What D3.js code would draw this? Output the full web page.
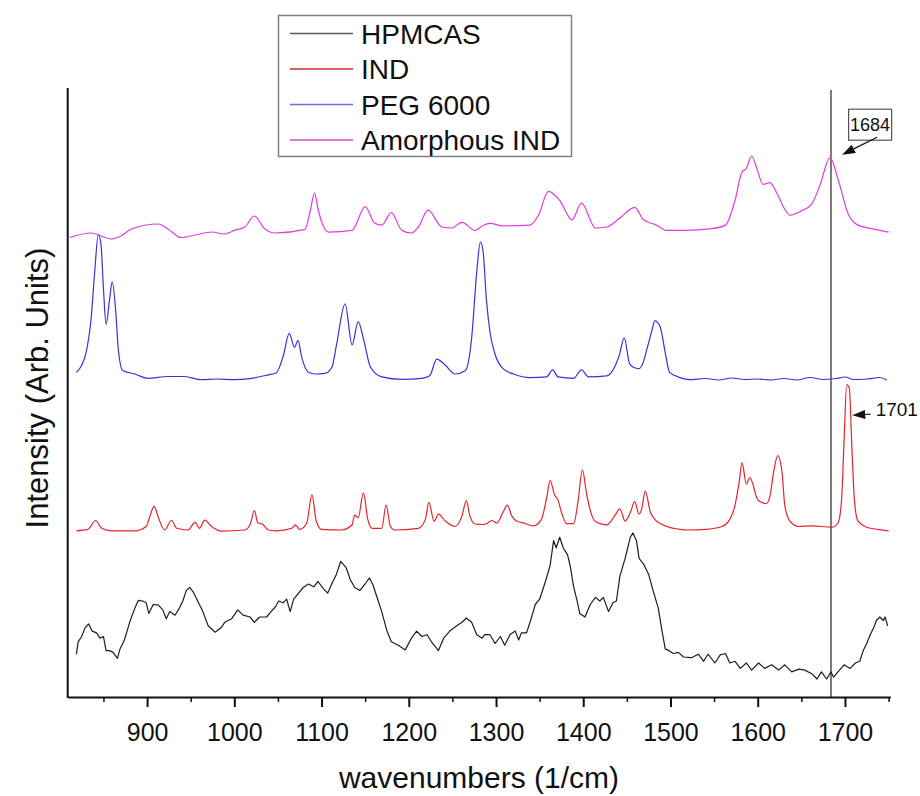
<!DOCTYPE html>
<html><head><meta charset="utf-8">
<script src="https://cdn.jsdelivr.net/npm/d3@7"></script>
<style>body{margin:0;background:#fff}svg{display:block}</style>
</head><body>
<svg id="c" width="920" height="796"></svg>
<script>
// ---------- DATA ----------
const hpmcasWn = [819,821,825,829,833,837,842,846,850,853,857,861,866,869,874,880,886,890,895,899,902,907,913,918,922,926,932,937,941,945,949,953,958,964,970,978,985,989,997,1004,1010,1018,1023,1029,1037,1042,1047,1051,1056,1060,1064,1068,1073,1079,1085,1091,1096,1102,1107,1112,1117,1122,1128,1133,1138,1144,1149,1155,1159,1163,1169,1175,1180,1188,1196,1203,1209,1215,1221,1226,1234,1240,1247,1255,1261,1266,1272,1278,1284,1287,1293,1299,1305,1310,1316,1322,1326,1329,1335,1339,1345,1350,1356,1362,1366,1369,1373,1377,1382,1385,1389,1393,1396,1402,1408,1414,1419,1423,1429,1434,1438,1442,1448,1454,1457,1461,1464,1469,1475,1480,1486,1490,1494,1498,1503,1509,1515,1524,1532,1538,1543,1551,1557,1563,1568,1574,1580,1587,1593,1601,1608,1616,1624,1631,1639,1647,1654,1662,1668,1673,1679,1684,1687,1692,1699,1706,1712,1717,1721,1725,1729,1733,1736,1740,1744,1746,1749];
const hpmcasI = [42.8,55.2,60.5,69.4,73,65.9,64.1,58.8,60.5,46.4,46.4,44.6,38.6,48.1,57,74.7,88.9,96.7,96,94.2,83.6,92.5,91.8,87.1,78.3,85.4,81.8,88.9,96,106.6,109.5,104.9,96,85.4,71.2,64.8,69.4,74.7,78.3,87.1,81.8,80,74.7,80,80,85.4,90,96,94.2,97.8,85.4,97.8,103.1,109.5,113,110.2,115.5,108.4,103.8,113.7,122.6,135.7,129.7,117.3,109.5,106.6,112,119.1,112,101.3,85.4,65.9,55.2,51.7,47.1,58.8,65.9,60.5,62.3,55.2,46.4,58.8,65.9,71.2,74.7,79,74.7,62.3,58.8,62.3,62.3,53.5,60.5,51.7,62.3,65.9,57,64.1,64.1,74.7,92.5,97.8,113.7,131.5,156.3,149.2,159.8,149.2,142.1,131.5,110.2,96,83.6,80,92.5,99.6,96,99.6,85.4,94.2,96,120.8,138.6,159.8,164.1,156.3,138.6,133.2,122.6,106.6,88.9,67.6,48.1,46.4,43.5,44.6,40,39.3,42.8,35.7,42.8,34,42.1,43.5,34,35.7,28.6,34,26.9,34,28.6,32.2,26.9,32.2,25.1,27.9,26.9,23.3,18,25.1,18,25.1,19.8,25.1,32.2,28.6,34,35.7,46.4,53.5,62.3,69.4,76.5,80,76.5,80,71.2];

const indWn = [819,832,841,848,859,886,899,904,908,913,920,928,934,947,955,960,966,974,985,1012,1018,1023,1027,1032,1039,1048,1066,1070,1075,1083,1089,1094,1100,1123,1135,1138,1142,1148,1153,1158,1169,1174,1179,1184,1211,1219,1223,1229,1234,1242,1253,1261,1266,1270,1276,1285,1289,1295,1301,1308,1313,1318,1324,1329,1343,1352,1358,1362,1367,1371,1375,1381,1389,1394,1399,1404,1410,1415,1427,1436,1442,1448,1454,1459,1464,1467,1471,1477,1482,1496,1511,1522,1540,1559,1568,1574,1579,1582,1587,1591,1595,1599,1603,1610,1614,1618,1623,1628,1631,1637,1647,1662,1685,1692,1696,1699,1702,1705,1708,1711,1715,1725,1738,1750];
const indI = [166.2,167.6,176.5,168.7,166.2,166.2,170.5,182.9,190.7,179.3,167,176.5,168.7,167,174.7,168.7,176.9,170.5,165.9,167,172.2,186.4,174,173,167,166.2,168.7,172.2,167.6,174,202.4,175.8,167.6,167,172.2,181.8,179.3,204.2,177.6,168.7,168.7,191.8,170.5,167,168.7,177.6,194.6,175.8,182.9,175.8,170.5,181.1,196.4,181.1,173,172.5,173.3,176.5,174,184.7,191.8,181.1,175.8,174.7,171.2,177.6,198.8,216.6,202.4,197.1,184.7,173.3,173.3,195.3,227.2,202.4,181.1,174.7,172.2,181.1,188.2,175.8,184.7,195.3,182.9,188.2,205.9,184.7,177.6,170.5,167.6,167,167.6,170.5,177.6,191.8,216.6,234.3,213,219.4,211.3,198.8,195.3,193.5,200.6,223.7,241.4,223.7,191.8,175.8,170.5,171.2,169.8,174,195.3,255.6,312.3,308.8,248.5,195.3,175.8,169.8,167.6,166.2];

const pegWn = [819,825,830,836,840,844,847,850,853,857,860,864,867,872,886,901,924,943,962,980,1000,1020,1039,1048,1056,1063,1069,1073,1077,1085,1093,1104,1112,1117,1127,1135,1142,1148,1156,1169,1192,1215,1224,1232,1242,1253,1265,1272,1278,1282,1285,1289,1293,1299,1308,1320,1339,1358,1365,1371,1389,1398,1406,1427,1436,1441,1447,1453,1457,1464,1469,1473,1479,1482,1488,1494,1499,1511,1522,1540,1555,1570,1585,1600,1615,1630,1645,1660,1675,1690,1700,1710,1725,1740,1748];
const pegI = [324.7,331.8,344.2,379.7,425.8,462,454.2,408.1,372.6,397.4,415.2,386.8,347.8,326.5,323,318.7,320.5,320.5,317.3,318,317.3,318.7,322.2,324,340.7,363.7,349.6,356.6,340.7,324.7,323,323.7,330,351.3,393.2,352,375.4,358.4,330,320.1,317.6,318.7,321.2,337.9,331.8,323,326.5,358.4,425.8,454.9,447,397.4,365.5,342.5,328.3,323,319.4,320.1,327.2,320.1,318.7,327.2,320.1,321.2,330,340.7,359.1,333.6,330,328.3,335.4,347.8,367.3,376.1,370.8,344.2,324.7,319.4,317.3,318.5,317,319,317.5,318,317,318.5,317,319.5,317.5,318.5,320,317.5,318,319.5,317];

const amorphWn = [811,836,859,870,882,913,924,939,955,974,989,1000,1012,1023,1035,1047,1081,1087,1092,1096,1100,1108,1135,1150,1161,1169,1180,1192,1203,1211,1222,1238,1249,1261,1276,1284,1293,1308,1339,1349,1360,1373,1387,1398,1414,1427,1442,1459,1469,1484,1496,1517,1547,1563,1574,1582,1587,1593,1599,1606,1614,1622,1631,1637,1650,1662,1671,1683,1692,1704,1715,1731,1750];
const amorphI = [459.5,464,458,461,468,473,468,459.5,462,465,463,466.6,470,481,468,464,467.6,486,503.8,488,475.4,464.8,466.6,490.3,473.7,471.9,484.3,466.6,464,470,486.8,470,469,474.7,466.6,471,473.7,471.2,471.9,482.5,505.6,496.7,477.2,493.9,469,470,479,489.6,477.2,471.9,466.6,466.6,468.3,471.9,496.7,525.1,528.6,541,528.6,512.7,514.4,503.8,487.9,481.8,486.1,493.2,510.9,539.3,518,482.5,471.9,468.3,464.8];

const seriesNames = ["HPMCAS", "IND", "PEG 6000", "Amorphous IND"];
const xTicksMajor = [900, 1000, 1100, 1200, 1300, 1400, 1500, 1600, 1700];
const xTicksMinor = [850, 950, 1050, 1150, 1250, 1350, 1450, 1550, 1650, 1750];
const markerWn = 1684;
const peakLabels = ["1684", "1701"];
const peakWn = [1683, 1702];

// ---------- STYLE ----------
const lineColors = ["#1e1e1e", "#e8232b", "#3434d8", "#e03ce0"];
const legendColors = ["#5a5a5a", "#d02a2a", "#6a6ae8", "#d04ad0"];
const FONT = "Arial, 'Liberation Sans', sans-serif";

const svg = d3.select("#c");
const x = d3.scaleLinear().domain([809, 1752]).range([67.7, 890.3]);
const y = d3.scaleLinear().domain([0, 609]).range([697, 88]);

const series = [
  {wn: hpmcasWn, v: hpmcasI, curve: d3.curveLinear},
  {wn: indWn, v: indI, curve: d3.curveMonotoneX},
  {wn: pegWn, v: pegI, curve: d3.curveMonotoneX},
  {wn: amorphWn, v: amorphI, curve: d3.curveMonotoneX}
];

// vertical marker line
svg.append("line")
  .attr("x1", x(markerWn)).attr("x2", x(markerWn))
  .attr("y1", y(607)).attr("y2", y(0))
  .attr("stroke", "#333").attr("stroke-width", 1.3);

// spectra
series.forEach((s, i) => {
  const pts = s.wn.map((w, k) => [w, s.v[k]]);
  svg.append("path").datum(pts)
    .attr("d", d3.line().x(d => x(d[0])).y(d => y(d[1])).curve(s.curve))
    .attr("fill", "none").attr("stroke", lineColors[i])
    .attr("stroke-width", 1.2).attr("stroke-linejoin", "round");
});

// axes
const gx = svg.append("g").attr("transform", `translate(0,${y(0)})`);
gx.call(d3.axisBottom(x).tickValues(xTicksMajor).tickSize(10).tickSizeOuter(0).tickFormat(d3.format("d")));
gx.select(".domain").attr("stroke", "#111").attr("stroke-width", 2);
gx.selectAll(".tick line").attr("stroke", "#111").attr("stroke-width", 2);
gx.selectAll(".tick text").attr("font-family", FONT).attr("font-size", 25)
  .attr("fill", "#111").attr("y", 44).attr("dy", 0);

const gm = svg.append("g").attr("transform", `translate(0,${y(0)})`);
gm.call(d3.axisBottom(x).tickValues(xTicksMinor).tickSize(5).tickSizeOuter(0).tickFormat(""));
gm.select(".domain").remove();
gm.selectAll(".tick line").attr("stroke", "#111").attr("stroke-width", 1.5);

// left axis line (no ticks)
svg.append("line").attr("x1", x.range()[0]).attr("x2", x.range()[0])
  .attr("y1", y.range()[1]).attr("y2", y(0) + 1)
  .attr("stroke", "#111").attr("stroke-width", 2);

// axis titles
svg.append("text").attr("x", (x.range()[0] + x.range()[1]) / 2).attr("y", 788)
  .attr("text-anchor", "middle").attr("font-family", FONT).attr("font-size", 30)
  .attr("fill", "#111").text("wavenumbers (1/cm)");
svg.append("text").attr("transform", "translate(48,388) rotate(-90)")
  .attr("text-anchor", "middle").attr("font-family", FONT).attr("font-size", 31)
  .attr("fill", "#111").text("Intensity (Arb. Units)");

// legend
const lg = svg.append("g");
lg.append("rect").attr("x", 278.5).attr("y", 15.5).attr("width", 293).attr("height", 141)
  .attr("fill", "#fff").attr("stroke", "#808080").attr("stroke-width", 1.5);
seriesNames.forEach((n, i) => {
  const yy = 33.5 + i * 35.5;
  lg.append("line").attr("x1", 290).attr("x2", 353).attr("y1", yy).attr("y2", yy)
    .attr("stroke", legendColors[i]).attr("stroke-width", 1.3);
  lg.append("text").attr("x", 361).attr("y", yy + 10).attr("font-family", FONT)
    .attr("font-size", 28).attr("fill", "#111").text(n);
});

// arrow helper
function arrow(x1, y1, x2, y2) {
  const ang = Math.atan2(y2 - y1, x2 - x1), L = 13, W = 4.5;
  const bx = x2 - L * Math.cos(ang), by = y2 - L * Math.sin(ang);
  svg.append("line").attr("x1", x1).attr("y1", y1).attr("x2", bx).attr("y2", by)
    .attr("stroke", "#111").attr("stroke-width", 1.2);
  const px = -Math.sin(ang) * W, py = Math.cos(ang) * W;
  svg.append("polygon").attr("points",
    `${x2},${y2} ${bx + px},${by + py} ${bx - px},${by - py}`).attr("fill", "#111");
}

// 1684 annotation
const a1x = x(peakWn[0]), a1y = y(amorphI[amorphWn.indexOf(peakWn[0])]);
svg.append("rect").attr("x", a1x + 18.5).attr("y", a1y - 48.5).attr("width", 43).attr("height", 31)
  .attr("fill", "#fff").attr("stroke", "#555").attr("stroke-width", 1.2);
svg.append("text").attr("x", a1x + 40).attr("y", a1y - 26.5).attr("text-anchor", "middle")
  .attr("font-family", FONT).attr("font-size", 18).attr("fill", "#111").text(peakLabels[0]);
arrow(a1x + 47, a1y - 20.5, a1x + 12, a1y - 3);

// 1701 annotation
const a2x = x(peakWn[1]), a2y = y(indI[indWn.indexOf(peakWn[1])]);
arrow(a2x + 24, a2y + 29.5, a2x + 5.5, a2y + 30.5);
svg.append("text").attr("x", a2x + 29).attr("y", a2y + 31).attr("font-family", FONT)
  .attr("font-size", 19).attr("fill", "#111").text(peakLabels[1]);
</script>
</body></html>
